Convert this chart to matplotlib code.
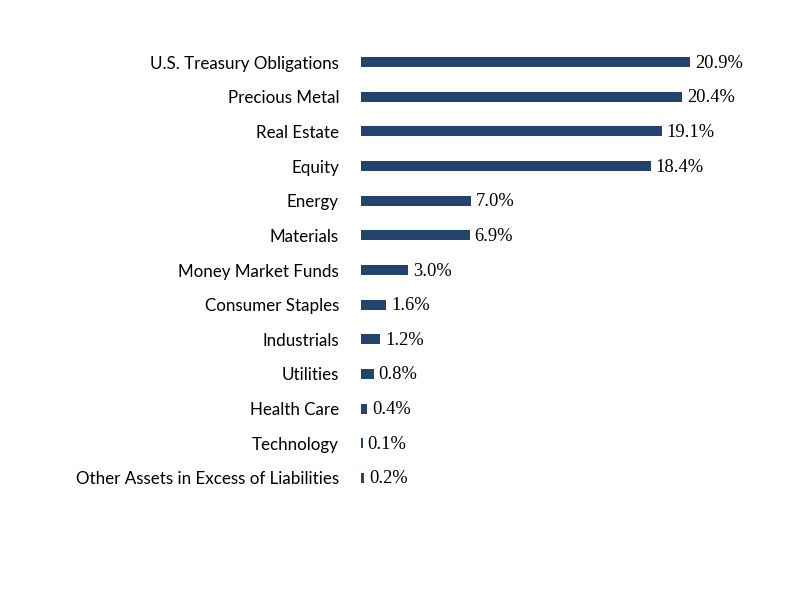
import matplotlib.pyplot as plt

## data (top to bottom)
sectors = ["U.S. Treasury Obligations", "Precious Metal", "Real Estate", "Equity",
           "Energy", "Materials", "Money Market Funds", "Consumer Staples",
           "Industrials", "Utilities", "Health Care", "Technology",
           "Other Assets in Excess of Liabilities"]
weights = [20.9, 20.4, 19.1, 18.4, 7.0, 6.9, 3.0, 1.6, 1.2, 0.8, 0.4, 0.1, 0.2]
bar_color = "#23446f"

fig = plt.figure(figsize=(11, 8.5), dpi=72)
ax = fig.add_axes([361 / 792, 1 - 495.3 / 612, 400 / 792, 450.6 / 612])

ypos = list(range(len(sectors)))
ax.barh(ypos, weights, height=0.29, color=bar_color)
ax.set_ylim(len(sectors) - 0.5, -0.5)
ax.set_xlim(0, 400 / 15.74)

# value labels in serif next to bar ends
for y, w in zip(ypos, weights):
    ax.annotate(f"{w:.1f}%", (w, y), xytext=(5, -1), textcoords="offset points",
                va="center", ha="left", family="Liberation Serif", fontsize=18.5)

ax.set_yticks(ypos)
ax.set_yticklabels(sectors, family="Lato", fontsize=17)
ax.tick_params(axis="y", length=0, pad=22)
ax.set_xticks([])
for s in ax.spines.values():
    s.set_visible(False)

fig.savefig("out.png", dpi=72)
